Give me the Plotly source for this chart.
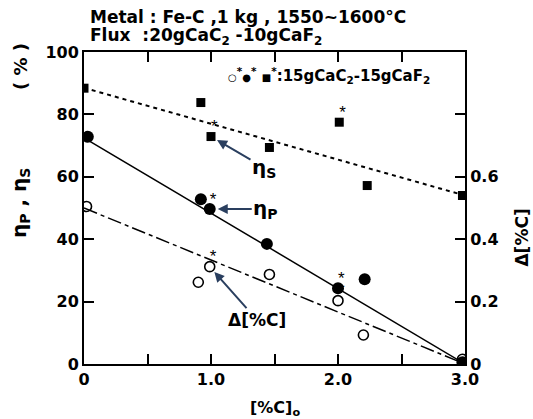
import plotly.graph_objects as go

# ---- data ----
c0_s = [0.0, 0.92, 1.0, 1.46, 2.01, 2.23, 2.98]
eta_s = [88.4, 83.8, 72.9, 69.4, 77.5, 57.2, 54.0]

c0_p = [0.03, 0.92, 0.99, 1.44, 2.0, 2.21, 2.98]
eta_p = [72.8, 52.8, 49.7, 38.5, 24.3, 27.2, 0.6]

c0_d = [0.02, 0.90, 0.99, 1.46, 2.0, 2.20, 2.98]
delta_c = [0.505, 0.262, 0.312, 0.287, 0.203, 0.093, 0.015]

# fitted lines
line_x = [0.0, 3.0]
eta_s_line = [88.5, 54.0]
eta_p_line = [72.5, 0.0]
delta_line = [0.50, 0.0]

# points measured with 15gCaC2-15gCaF2 (marked *)
star_s_x, star_s_y = [1.0, 2.01], [72.9, 77.5]
star_p_x, star_p_y = [0.99, 2.0], [49.7, 24.3]
star_d_x, star_d_y = [0.99, 2.0], [0.312, 0.203]

x_ticks = [0, 0.5, 1.0, 1.5, 2.0, 2.5, 3.0]
x_ticktext = ["0", "", "1.0", "", "2.0", "", "3.0"]
y_ticks = [0, 20, 40, 60, 80, 100]
y2_ticks = [0, 0.2, 0.4, 0.6, 0.8]
y2_ticktext = ["0", "0.2", "0.4", "0.6", ""]

FONT = "DejaVu Sans, Liberation Sans, sans-serif"
tickfont = dict(family=FONT, size=16, color="black", weight="bold")

fig = go.Figure()

# lines
fig.add_trace(go.Scatter(x=line_x, y=eta_s_line, mode="lines",
                         line=dict(color="black", width=2, dash="4px,4px"), hoverinfo="skip"))
fig.add_trace(go.Scatter(x=line_x, y=eta_p_line, mode="lines",
                         line=dict(color="black", width=1.5), hoverinfo="skip"))
fig.add_trace(go.Scatter(x=line_x, y=delta_line, mode="lines", yaxis="y2",
                         line=dict(color="black", width=1.5, dash="14px,4px,4px,4px"), hoverinfo="skip"))

# markers
fig.add_trace(go.Scatter(x=c0_s, y=eta_s, mode="markers",
                         marker=dict(symbol="square", size=9, color="black")))
fig.add_trace(go.Scatter(x=c0_p, y=eta_p, mode="markers",
                         marker=dict(symbol="circle", size=12, color="black")))
fig.add_trace(go.Scatter(x=c0_d, y=delta_c, mode="markers", yaxis="y2",
                         marker=dict(symbol="circle-open", size=10, color="black",
                                     line=dict(width=1.6, color="black"))))

# asterisks
starfont = dict(family="Liberation Sans, sans-serif", size=17, color="black")
for sx, sy, ax in [(star_s_x, star_s_y, "y"), (star_p_x, star_p_y, "y"), (star_d_x, star_d_y, "y2")]:
    fig.add_trace(go.Scatter(x=sx, y=sy, mode="text", text=["*"] * len(sx),
                             textposition="top right", textfont=starfont, yaxis=ax))

sym = '<span style="font-size:10px">{}</span>'
legend_text = (sym.format("○") + "<sup>*</sup>" + sym.format("●") + "<sup>*</sup> "
               + sym.format("■") + "<sup>*</sup>:15gCaC<sub>2</sub>-15gCaF<sub>2</sub>")

annots = [
    dict(x=0.0105, y=1.112, xref="paper", yref="paper", xanchor="left", yanchor="middle",
         text="Metal : Fe-C ,1 kg , 1550~1600°C", showarrow=False,
         font=dict(family=FONT, size=17, color="black", weight="bold")),
    dict(x=0.0105, y=1.051, xref="paper", yref="paper", xanchor="left", yanchor="middle",
         text="Flux  :20gCaC<sub>2</sub> -10gCaF<sub>2</sub>", showarrow=False,
         font=dict(family=FONT, size=17, color="black", weight="bold")),
    dict(x=0.372, y=0.925, xref="paper", yref="paper", xanchor="left", yanchor="middle",
         text=legend_text,
         showarrow=False, font=dict(family=FONT, size=15, color="black", weight="bold")),
    dict(x=-0.168, y=0.955, xref="paper", yref="paper", textangle=-90,
         xanchor="center", yanchor="middle",
         text="( % )", showarrow=False,
         font=dict(family=FONT, size=18, color="black", weight="bold")),
    dict(x=-0.168, y=0.516, xref="paper", yref="paper", textangle=-90,
         xanchor="center", yanchor="middle",
         text="η<sub>P</sub> , η<sub>S</sub>", showarrow=False,
         font=dict(family=FONT, size=20, color="black", weight="bold")),
    dict(x=1.18, y=0.404, xref="paper", yref="paper", textangle=-90,
         text="Δ[%C]", showarrow=False,
         font=dict(family=FONT, size=17, color="black", weight="bold")),
    dict(x=0.5, y=-0.144, xref="paper", yref="paper", yanchor="middle",
         text="[%C]<sub>o</sub>", showarrow=False,
         font=dict(family=FONT, size=16, color="black", weight="bold")),
    dict(x=1.0, y=72.9, xref="x", yref="y", ax=53, ay=31,
         text="η<sub>S</sub>", showarrow=True, arrowhead=2, arrowsize=1, arrowwidth=2,
         standoff=7, font=dict(family=FONT, size=20, color="black", weight="bold")),
    dict(x=0.99, y=49.7, xref="x", yref="y", ax=56, ay=0,
         text="η<sub>P</sub>", showarrow=True, arrowhead=2, arrowsize=1, arrowwidth=2,
         standoff=8, font=dict(family=FONT, size=20, color="black", weight="bold")),
    dict(x=0.99, y=0.312, xref="x", yref="y2", ax=47, ay=53,
         text="Δ[%C]", showarrow=True, arrowhead=2, arrowsize=1, arrowwidth=2,
         standoff=7, font=dict(family=FONT, size=17, color="black", weight="bold")),
]

fig.update_layout(
    width=533, height=419,
    margin=dict(l=84, r=68, t=52, b=55),
    paper_bgcolor="white", plot_bgcolor="white",
    showlegend=False,
    annotations=annots,
    xaxis=dict(range=[0, 3.0], tickvals=x_ticks, ticktext=x_ticktext,
               ticks="inside", ticklen=10, tickwidth=2, tickcolor="black",
               showline=True, linecolor="black", linewidth=2, mirror="ticks",
               showgrid=False, zeroline=False, tickfont=tickfont),
    yaxis=dict(range=[0, 100], tickvals=y_ticks,
               ticks="inside", ticklen=10, tickwidth=2, tickcolor="black",
               showline=True, linecolor="black", linewidth=2,
               showgrid=False, zeroline=False, tickfont=tickfont),
    yaxis2=dict(range=[0, 1.0], tickvals=y2_ticks, ticktext=y2_ticktext,
                overlaying="y", side="right",
                ticks="inside", ticklen=10, tickwidth=2, tickcolor="black",
                showline=True, linecolor="black", linewidth=2,
                showgrid=False, zeroline=False, tickfont=tickfont),
)

fig.write_html("out.html")
